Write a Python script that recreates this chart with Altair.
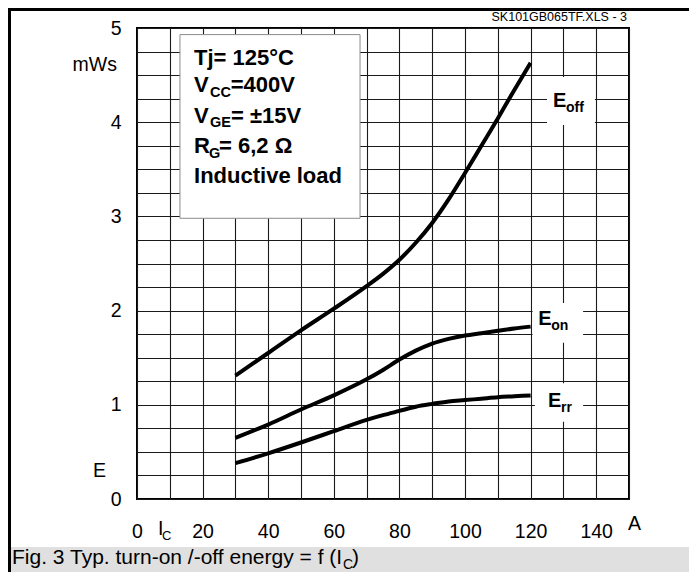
import altair as alt
import pandas as pd

# ---- data ----
ic = [30, 40, 50, 60, 70, 75, 80, 85, 90, 95, 100, 105, 110, 115, 120]
e_off = [1.31, 1.55, 1.79, 2.02, 2.26, 2.39, 2.54, 2.72, 2.93, 3.18, 3.46, 3.75, 4.04, 4.34, 4.63]
e_on = [0.65, 0.79, 0.95, 1.10, 1.27, 1.37, 1.48, 1.575, 1.65, 1.70, 1.735, 1.76, 1.785, 1.81, 1.83]
e_rr = [0.38, 0.485, 0.60, 0.72, 0.84, 0.89, 0.935, 0.98, 1.01, 1.035, 1.05, 1.065, 1.08, 1.09, 1.10]
series = ["off", "on", "rr"]

x_grid = list(range(0, 151, 10))
y_grid = [i * 0.25 for i in range(21)]

info_main = ["Tj= 125°C", "V", "=400V", "V", "= ±15V", "R", "= 6,2 Ω", "Inductive load"]
info_sub = ["CC", "GE", "G"]
caption_main = "Fig. 3 Typ. turn-on /-off energy = f (I"
caption_sub = "C"
file_tag = "SK101GB065TF.XLS - 3"

W, H = 492, 471
FONT = "Liberation Sans"

rows = []
for name, vals in zip(series, [e_off, e_on, e_rr]):
    for x, y in zip(ic, vals):
        rows.append({"series": name, "ic": x, "e": y})
df = pd.DataFrame(rows)

xscale = alt.Scale(domain=[0, 150], nice=False, zero=False)
yscale = alt.Scale(domain=[0, 5], nice=False, zero=False)

x_axis = alt.Axis(values=x_grid, grid=True, gridColor="#1a1a1a", gridWidth=1.1, gridOpacity=1,
                  ticks=False, domain=False, title=None, labelOverlap=False, labelFlush=False,
                  labelExpr="(datum.value % 20 == 0 && datum.value < 150) ? format(datum.value, 'd') : ''",
                  labelFont=FONT, labelFontSize=19.5, labelColor="black", labelPadding=23)
y_axis = alt.Axis(values=y_grid, grid=True, gridColor="#1a1a1a", gridWidth=1.1, gridOpacity=1,
                  ticks=False, domain=False, title=None, labelOverlap=False, labelFlush=False,
                  labelExpr="(datum.value % 1 == 0) ? format(datum.value, 'd') : ''",
                  labelFont=FONT, labelFontSize=19.5, labelColor="black", labelPadding=16)

lines = alt.Chart(df).mark_line(color="black", strokeWidth=4, interpolate="monotone").encode(
    x=alt.X("ic:Q", scale=xscale, axis=x_axis),
    y=alt.Y("e:Q", scale=yscale, axis=y_axis),
    detail="series:N",
)


def drect(d, **kw):
    return alt.Chart(pd.DataFrame(d)).mark_rect(**kw).encode(
        x=alt.X("x0:Q", scale=xscale, axis=x_axis), x2="x1:Q",
        y=alt.Y("y0:Q", scale=yscale, axis=y_axis), y2="y1:Q")


def dtext(d, size, weight="bold"):
    return alt.Chart(pd.DataFrame(d)).mark_text(
        align="left", baseline="alphabetic", font=FONT, fontSize=size,
        fontWeight=weight, color="black").encode(
        x=alt.X("x:Q", scale=xscale, axis=x_axis),
        y=alt.Y("y:Q", scale=yscale, axis=y_axis),
        text="t:N")


def ptext(t, x, y, size, align="left", weight="normal"):
    return alt.Chart(pd.DataFrame({"t": [t]})).mark_text(
        align=align, baseline="alphabetic", font=FONT, fontSize=size,
        fontWeight=weight, color="black").encode(
        x=alt.value(x), y=alt.value(y), text="t:N")


def prect(x, x2, y, y2, **kw):
    return alt.Chart(pd.DataFrame({"k": [0]})).mark_rect(**kw).encode(
        x=alt.value(x), x2=alt.value(x2), y=alt.value(y), y2=alt.value(y2))


# info box
box = drect({"x0": [13.1], "x1": [68.0], "y0": [2.98], "y1": [4.93]},
            fill="white", stroke="#8c8c8c", strokeWidth=1)
info_big = dtext({"t": info_main,
                  "x": [17.4, 17.4, 28.57, 17.4, 28.66, 17.4, 25.0, 17.4],
                  "y": [4.607, 4.324, 4.324, 3.988, 3.988, 3.670, 3.670, 3.358]}, 22)
info_small = dtext({"t": info_sub,
                    "x": [22.26, 22.26, 21.95],
                    "y": [4.271, 3.949, 3.620]}, 14.5)

# curve labels
label_bg = drect({"x0": [125.0, 120.6, 121.3], "x1": [139.6, 136.0, 136.0],
                  "y0": [3.97, 1.66, 0.82], "y1": [4.48, 2.08, 1.23]},
                 fill="white", stroke=None)
lab_e = dtext({"t": ["E", "E", "E"], "x": [126.8, 122.3, 125.3], "y": [4.16, 1.85, 0.98]}, 20)
lab_sub = dtext({"t": ["off", "on", "rr"], "x": [130.8, 126.3, 129.3],
                 "y": [4.107, 1.797, 0.927]}, 14)

# axis titles / units
t_mws = ptext("mWs", -20, 43, 19.5, align="right")
t_e = ptext("E", -44, 449, 19.5)
t_ic = ptext("I", 21, 507, 19.5)
t_ic_sub = ptext("C", 25, 512, 13)
t_a = ptext("A", 491, 502, 19.5)

# frame, caption band, caption, file tag
band = prect(-129, 700, 519, 700, fill="#e0e0e0")
frame = prect(-127.5, 700, -18.5, 700, fill="white", fillOpacity=0, stroke="black", strokeWidth=3)
cap1 = ptext(caption_main, -125, 536, 21)
cap2 = ptext(caption_sub, 206, 541, 14)
cap3 = ptext(")", 215, 536, 21)
tag = ptext(file_tag, 490, -7, 12.5, align="right")

chart = alt.layer(
    lines, box, info_big, info_small, label_bg, lab_e, lab_sub,
    t_mws, t_e, t_ic, t_ic_sub, t_a, band, frame, cap1, cap2, cap3, tag,
).properties(
    width=W, height=H,
    padding={"left": 129, "top": 20, "right": 60, "bottom": 73},
    autosize=alt.AutoSizeParams(type="none"),
).configure_view(stroke="black", strokeWidth=2)

chart.save("out.html", embed_options={"renderer": "svg", "actions": False})
